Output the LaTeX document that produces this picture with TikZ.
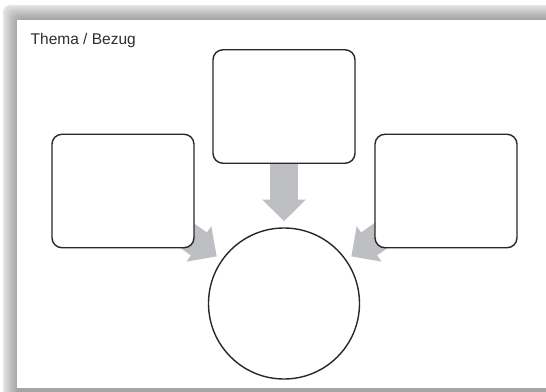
\documentclass[tikz,border=0pt]{standalone}
\usepackage{fontspec}
\setmainfont{Liberation Sans}
\usetikzlibrary{arrows.meta,calc}
\pgfdeclarelayer{bg}
\pgfdeclarelayer{mid}
\pgfsetlayers{bg,mid,main}
\definecolor{arrowgray}{RGB}{190,191,194}
\definecolor{linegray}{RGB}{40,40,40}
\definecolor{textgray}{RGB}{45,45,45}
\begin{document}
\begin{tikzpicture}[x=1pt,y=-1pt,
  card/.style={draw=linegray, line width=1.4pt, fill=white, rounded corners=10pt,
    minimum width=142pt, minimum height=113.5pt, inner sep=0pt},
  hub/.style={circle, draw=linegray, line width=1.4pt, fill=white,
    minimum size=151pt, inner sep=0pt},
  fatarrow/.style={draw=arrowgray, line width=28pt,
    -{Triangle[width=42pt,length=21.7pt]}, shorten >=6pt},
]
\useasboundingbox (0,0) rectangle (546,391);
% page with shadow
\begin{pgfonlayer}{bg}
  \fill[black,opacity=0.1,rounded corners=7pt] (3,5) rectangle (570,400);
  \foreach \i in {1,...,14}
    \fill[black,opacity=0.022,rounded corners=7pt] ({3+\i},{5+\i}) rectangle (570,400);
  \fill[white] (17,20) rectangle (570,388);
\end{pgfonlayer}

\node[anchor=base west, font=\fontsize{15.5}{18}\selectfont, text=textgray, inner sep=0pt]
  (title) at (30.5,44.5) {Thema / Bezug};

\node[card] (left)  at (123,191) {};
\node[card] (top)   at (284,106.5) {};
\node[card] (right) at (446,191) {};
\node[hub]  (hub)   at (284,303.5) {};

\begin{pgfonlayer}{mid}
  \draw[fatarrow] (top.south) -- (hub.north);
  \draw[fatarrow] ($(hub.center)+(145:125pt)$) -- (hub.145);
  \draw[fatarrow] ($(hub.center)+(35:125pt)$) -- (hub.35);
\end{pgfonlayer}
\end{tikzpicture}
\end{document}
